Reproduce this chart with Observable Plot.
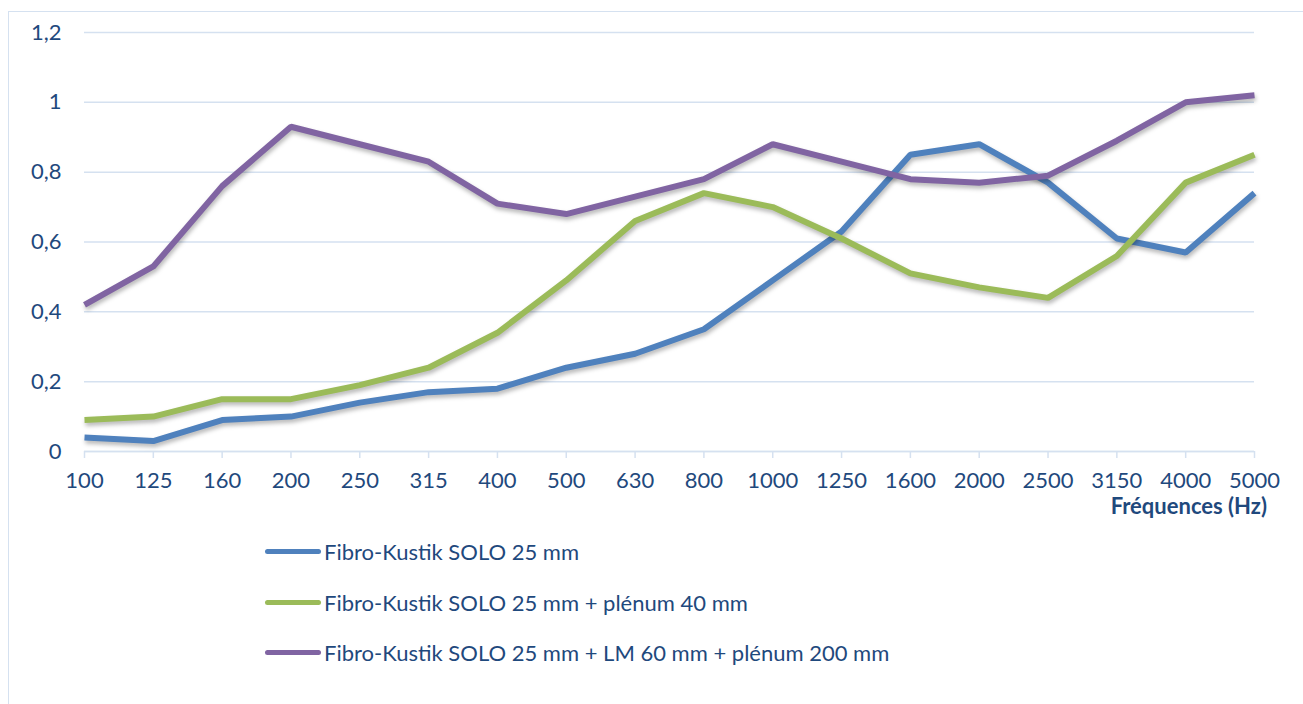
<!DOCTYPE html>
<html>
<head>
<meta charset="utf-8">
<script src="https://cdn.jsdelivr.net/npm/d3@7"></script>
<script src="https://cdn.jsdelivr.net/npm/@observablehq/plot@0.6"></script>
<style>
  html, body { margin: 0; padding: 0; background: #fff; }
  body { width: 1303px; height: 704px; overflow: hidden; position: relative; font-family: Lato, "Open Sans", sans-serif; }
  #frame { position: absolute; left: 8px; top: 11px; width: 1320px; height: 740px; border: 1px solid #D5E1F0; box-sizing: border-box; }
  #chart { position: absolute; left: 0; top: 0; }
  #chart svg [aria-label="x-axis tick"] { stroke: #D5E1F0; stroke-width: 1.5px; }
  #chart svg [aria-label="line"] path { filter: drop-shadow(1px 3px 2px rgba(0,0,0,0.28)); }
  #xtitle { position: absolute; right: 36px; top: 492px; font-weight: bold; font-size: 22px; color: #1F497D; }
  .leg { position: absolute; left: 265px; height: 26px; display: flex; align-items: center; font-size: 22px; color: #1F497D; }
  .leg .sw { width: 56px; height: 5px; border-radius: 3px; margin-right: 3px; }
</style>
</head>
<body>
<div id="frame"></div>
<div id="chart"></div>
<div id="xtitle">Fréquences (Hz)</div>
<div id="legend"></div>
<script>
const frequencies = ["100","125","160","200","250","315","400","500","630","800","1000","1250","1600","2000","2500","3150","4000","5000"];
const seriesNames = [
  "Fibro-Kustik SOLO 25 mm",
  "Fibro-Kustik SOLO 25 mm + plénum 40 mm",
  "Fibro-Kustik SOLO 25 mm + LM 60 mm + plénum 200 mm"
];
const soloValues   = [0.04,0.03,0.09,0.10,0.14,0.17,0.18,0.24,0.28,0.35,0.49,0.63,0.85,0.88,0.77,0.61,0.57,0.74];
const plenum40     = [0.09,0.10,0.15,0.15,0.19,0.24,0.34,0.49,0.66,0.74,0.70,0.61,0.51,0.47,0.44,0.56,0.77,0.85];
const lm60plenum200= [0.42,0.53,0.76,0.93,0.88,0.83,0.71,0.68,0.73,0.78,0.88,0.83,0.78,0.77,0.79,0.89,1.00,1.02];
const yTicks = [0, 0.2, 0.4, 0.6, 0.8, 1, 1.2];
const colors = ["#4F81BD", "#9BBB59", "#8064A2"];

const allSeries = [soloValues, plenum40, lm60plenum200];
const rows = [];
allSeries.forEach((vals, s) => vals.forEach((v, i) => rows.push({freq: frequencies[i], value: v, series: seriesNames[s]})));

const fmt = d => String(d).replace(".", ",");

const plot = Plot.plot({
  width: 1303,
  height: 530,
  marginLeft: 84,
  marginRight: 49,
  marginTop: 32,
  marginBottom: 79,
  style: {fontFamily: "Lato, 'Open Sans', sans-serif", fontSize: "22px", color: "#1F497D", background: "transparent"},
  x: {type: "point", domain: frequencies, padding: 0, round: false},
  y: {domain: [0, 1.2]},
  color: {domain: seriesNames, range: colors},
  marks: [
    Plot.gridY(yTicks, {stroke: "#D5E1F0", strokeOpacity: 1, strokeWidth: 1.5}),
    Plot.ruleY([0], {stroke: "#D5E1F0", strokeWidth: 1.5}),
    Plot.axisY(yTicks, {tickSize: 0, tickPadding: 23, tickFormat: fmt, label: null, fill: "#1F497D", fontSize: 22}),
    Plot.axisX({tickSize: 7, tickPadding: 14, label: null, fill: "#1F497D", fontSize: 22}),
    Plot.line(rows, {x: "freq", y: "value", z: "series", stroke: "series", strokeWidth: 6, strokeLinejoin: "miter", strokeLinecap: "butt"})
  ]
});
document.getElementById("chart").appendChild(plot);

const legend = document.getElementById("legend");
const legTops = [538, 589, 639];
seriesNames.forEach((name, i) => {
  const d = document.createElement("div");
  d.className = "leg";
  d.style.top = legTops[i] + "px";
  d.innerHTML = `<span class="sw" style="background:${colors[i]}"></span><span>${name}</span>`;
  legend.appendChild(d);
});
</script>
</body>
</html>
